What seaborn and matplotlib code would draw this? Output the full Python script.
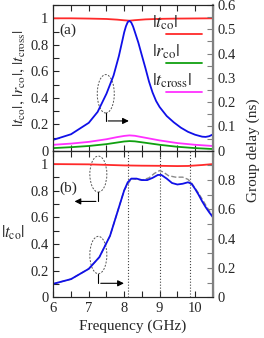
import matplotlib
matplotlib.use("Agg")
import matplotlib.pyplot as plt
import seaborn as sns
from matplotlib.patches import Ellipse
from matplotlib.ticker import MultipleLocator

# ---- panel (a) data ----
freq_a = [6.0, 6.5, 7.0, 7.5, 7.8, 8.0, 8.15, 8.3, 8.6, 9.0, 9.5, 10.0, 10.5]
tco_a = [1.0, 1.0, 0.998, 0.995, 0.99, 0.985, 0.982, 0.986, 0.992, 0.996, 0.998, 0.999, 1.0]
rco_a = [0.02, 0.027, 0.036, 0.05, 0.062, 0.07, 0.073, 0.071, 0.06, 0.045, 0.03, 0.02, 0.013]
tcross_a = [0.045, 0.054, 0.067, 0.087, 0.103, 0.112, 0.116, 0.113, 0.098, 0.078, 0.058, 0.045, 0.036]

freq_gd_a = [6.0, 6.5, 7.0, 7.25, 7.5, 7.7, 7.85, 7.95, 8.0, 8.05, 8.1, 8.15, 8.2, 8.25, 8.3,
             8.4, 8.5, 8.6, 8.7, 8.8, 8.9, 9.0, 9.2, 9.4, 9.6, 9.8, 10.0, 10.2, 10.3, 10.4, 10.5]
gd_a = [0.045, 0.068, 0.115, 0.160, 0.235, 0.310, 0.390, 0.455, 0.488, 0.513, 0.530, 0.535,
        0.528, 0.512, 0.490, 0.445, 0.392, 0.340, 0.285, 0.240, 0.205, 0.180, 0.143, 0.117,
        0.095, 0.078, 0.066, 0.058, 0.057, 0.060, 0.067]

# ---- panel (b) data ----
freq_tco_b = [6.0, 7.0, 8.0, 8.5, 9.0, 9.5, 9.8, 10.2, 10.5]
tco_b = [1.0, 0.998, 0.99, 0.988, 0.987, 0.985, 0.986, 0.993, 1.0]

freq_gd_b = [6.0, 6.5, 7.0, 7.3, 7.6, 7.8, 8.0, 8.1, 8.2, 8.35, 8.5, 8.65, 8.8, 8.95, 9.05,
             9.2, 9.35, 9.5, 9.65, 9.8, 9.9, 10.0, 10.1, 10.2, 10.3, 10.4, 10.5]
gd_b = [0.093, 0.125, 0.195, 0.275, 0.42, 0.575, 0.73, 0.785, 0.81, 0.81, 0.80, 0.80, 0.815,
        0.835, 0.835, 0.81, 0.78, 0.77, 0.775, 0.785, 0.775, 0.74, 0.70, 0.655, 0.615, 0.58, 0.548]

freq_gd_b_ref = [6.0, 6.5, 7.0, 7.3, 7.6, 7.8, 8.0, 8.2, 8.5, 8.7, 8.85, 9.0, 9.1, 9.25, 9.45,
                 9.65, 9.8, 9.9, 10.0, 10.1, 10.2, 10.35, 10.5]
gd_b_ref = [0.093, 0.125, 0.195, 0.275, 0.42, 0.575, 0.73, 0.81, 0.80, 0.815, 0.845, 0.865,
            0.855, 0.83, 0.82, 0.82, 0.805, 0.78, 0.745, 0.71, 0.67, 0.61, 0.555]

marker_freqs = [8.1, 9.0, 9.87]

RED, GREEN, MAG, BLUE = '#ff2a2a', '#10a010', '#ff30ff', '#1010e8'
GRAY_SPINE = '#808080'

sns.set_style("ticks")
plt.rcParams['font.family'] = 'serif'
plt.rcParams['font.serif'] = ['Liberation Serif', 'Times New Roman', 'DejaVu Serif']
plt.rcParams['mathtext.fontset'] = 'stix'
plt.rcParams['font.size'] = 10

fig = plt.figure(figsize=(2.64, 3.38), dpi=100)
L, W = 0.202, 0.604
ax_a = fig.add_axes([L, 0.554, W, 0.431])
ax_b = fig.add_axes([L, 0.12, W, 0.434])
ax_a2 = ax_a.twinx()
ax_b2 = ax_b.twinx()

lw = 1.3
# panel (a)
sns.lineplot(x=freq_a, y=tco_a, ax=ax_a, color=RED, lw=lw)
sns.lineplot(x=freq_a, y=rco_a, ax=ax_a, color=GREEN, lw=lw)
sns.lineplot(x=freq_a, y=tcross_a, ax=ax_a, color=MAG, lw=lw)
sns.lineplot(x=freq_gd_a, y=gd_a, ax=ax_a2, color=BLUE, lw=lw)

# panel (b)
for f in marker_freqs:
    ax_b.axvline(f, color='#444444', ls=':', lw=0.8, zorder=1)
sns.lineplot(x=freq_tco_b, y=tco_b, ax=ax_b, color=RED, lw=lw)
sns.lineplot(x=freq_gd_b_ref, y=gd_b_ref, ax=ax_b2, color='#8a8a8a', lw=1.0, ls='--')
sns.lineplot(x=freq_gd_b, y=gd_b, ax=ax_b2, color=BLUE, lw=lw)

for ax in (ax_a, ax_b):
    ax.set_xlim(6, 10.5)
    ax.set_ylim(0, 1.1)
    ax.xaxis.set_major_locator(MultipleLocator(1))
    ax.xaxis.set_minor_locator(MultipleLocator(0.5))
    ax.yaxis.set_major_locator(MultipleLocator(0.2))
    ax.yaxis.set_minor_locator(MultipleLocator(0.1))
    ax.tick_params(which='both', direction='in', top=True, labelsize=10.5, length=4, width=0.8)
    ax.set_ylabel('')
for ax, top in ((ax_a2, 0.6), (ax_b2, 1.0)):
    ax.set_ylim(0, top)
    ax.tick_params(which='both', direction='in', labelsize=10.5, length=4, width=0.8,
                   color=GRAY_SPINE)
    ax.spines['right'].set_color(GRAY_SPINE)
    ax.spines['right'].set_linewidth(1.6)
ax_a2.yaxis.set_major_locator(MultipleLocator(0.1))
ax_a2.yaxis.set_minor_locator(MultipleLocator(0.05))
ax_b2.set_yticks([0, 0.2, 0.4, 0.6, 0.8])
ax_b2.yaxis.set_minor_locator(MultipleLocator(0.1))
for ax in (ax_a, ax_b, ax_a2, ax_b2):
    ax.yaxis.set_major_formatter(plt.FuncFormatter(lambda v, p: f'{v:g}'))
ax_a.tick_params(labelbottom=False)

ax_a.set_ylabel(r'$|t_{\rm co}|,\,|r_{\rm co}|,\,|t_{\rm cross}|$', fontsize=11.5, labelpad=2)
ax_b.set_ylabel(r'$|t_{\rm co}|$', fontsize=12, rotation=0, va='center')
ax_b.yaxis.set_label_coords(-0.25, 0.44)
ax_b.set_xlabel('Frequency (GHz)', fontsize=11, labelpad=3)
fig.text(0.96, 0.554, 'Group delay (ns)', rotation=90, ha='center', va='center', fontsize=11)

ax_a.text(0.04, 0.8, '(a)', transform=ax_a.transAxes, fontsize=11)
ax_b.text(0.04, 0.72, '(b)', transform=ax_b.transAxes, fontsize=11)

# custom legend (text above line)
for i, (lab, col) in enumerate([(r'$|t_{\rm co}|$', RED), (r'$|r_{\rm co}|$', GREEN),
                                (r'$|t_{\rm cross}|$', MAG)]):
    yt = 0.88 - i * 0.2
    ax_a.text(0.62, yt, lab, transform=ax_a.transAxes, fontsize=13, va='center')
    ax_a.plot([0.705, 0.93], [yt - 0.08, yt - 0.08], transform=ax_a.transAxes, color=col, lw=lw)

# ellipses and arrows
ell_kw = dict(fill=False, ls=(0, (2, 1.5)), lw=0.7, ec='#555555')
arr_kw = dict(arrowstyle='-|>', color='black', lw=0.8, mutation_scale=9)
ax_a.add_patch(Ellipse((7.48, 0.43), 0.48, 0.29, **ell_kw))
ax_a.plot([7.48, 7.48], [0.285, 0.225], color='black', lw=0.8)
ax_a.annotate('', xy=(8.21, 0.225), xytext=(7.47, 0.225), arrowprops=arr_kw)

ax_b.add_patch(Ellipse((7.27, 0.925), 0.48, 0.27, **ell_kw))
ax_b.plot([7.27, 7.27], [0.79, 0.72], color='black', lw=0.8)
ax_b.annotate('', xy=(6.52, 0.72), xytext=(7.28, 0.72), arrowprops=arr_kw)

ax_b.add_patch(Ellipse((7.27, 0.318), 0.48, 0.28, **ell_kw))
ax_b.plot([7.27, 7.27], [0.178, 0.106], color='black', lw=0.8)
ax_b.annotate('', xy=(8.07, 0.106), xytext=(7.26, 0.106), arrowprops=arr_kw)

fig.savefig('out.png', dpi=100)
